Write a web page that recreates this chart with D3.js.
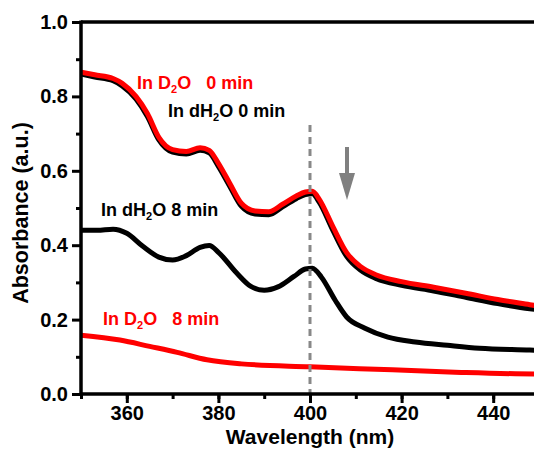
<!DOCTYPE html>
<meta charset="utf-8">
<script src="https://d3js.org/d3.v7.min.js"></script>
<style>
  body { margin: 0; background: #fff; }
  text { font-family: Arial, "Liberation Sans", sans-serif; font-weight: bold; }
</style>
<div id="chart"></div>
<script>

    // spectra: [wavelength nm, absorbance]
    const d2o0 = [[350,0.865],[353,0.858],[357,0.848],[359,0.835],[362,0.80],[364.5,0.754],[367,0.69],[370,0.657],
      [373,0.652],[376,0.662],[378,0.655],[380,0.62],[382.5,0.566],[385,0.513],[388,0.492],[391,0.490],
      [394,0.510],[397,0.532],[399,0.543],[400.5,0.545],[402,0.524],[405,0.450],[408,0.380],[411,0.343],
      [414.5,0.320],[420,0.302],[427,0.287],[434,0.271],[441,0.254],[448,0.240],[450,0.236]];
    const dh2o0 = [[350,0.860],[353,0.852],[357,0.842],[359,0.828],[362,0.793],[364.5,0.746],[367,0.683],[370,0.650],
      [373,0.645],[376,0.655],[378,0.648],[380,0.612],[382.5,0.558],[385,0.505],[388,0.484],[391,0.482],
      [394,0.503],[397,0.525],[399,0.536],[400.5,0.538],[402,0.516],[405,0.440],[408,0.370],[411,0.333],
      [414.5,0.310],[420,0.292],[427,0.277],[434,0.260],[441,0.243],[448,0.229],[450,0.226]];
    const dh2o8 = [[350,0.440],[353.5,0.440],[357,0.443],[360,0.432],[363.5,0.397],[367,0.368],[370,0.360],
      [373,0.372],[376,0.394],[378,0.399],[380,0.381],[384,0.325],[387,0.290],[390,0.279],[393,0.288],
      [396.5,0.316],[399,0.336],[400.5,0.338],[402.5,0.314],[405.5,0.252],[408,0.207],[412,0.177],
      [417,0.153],[423,0.140],[430,0.131],[437,0.123],[448,0.118],[450,0.117]];
    const d2o8 = [[350,0.158],[358.5,0.145],[365,0.128],[371,0.112],[377.5,0.092],[385,0.081],[400,0.073],
      [418,0.065],[433,0.058],[449,0.054],[450,0.054]];

    const xTicks = [360, 380, 400, 420, 440];
    const yTicks = [0.0, 0.2, 0.4, 0.6, 0.8, 1.0];

    const W = 534, H = 449;
    const plotL = 81, plotR = 539, plotT = 22, plotB = 394;

    const svg = d3.select("#chart").append("svg")
        .attr("width", W)
        .attr("height", H);

    const x = d3.scaleLinear().domain([350, 450]).range([plotL, plotR]);
    const y = d3.scaleLinear().domain([0, 1]).range([plotB, plotT]);

    const line = d3.line()
        .x(d => x(d[0]))
        .y(d => y(d[1]))
        .curve(d3.curveMonotoneX);

    // curves
    const series = [
      {data: d2o8, color: "#ff0000"},
      {data: dh2o8, color: "#000000"},
      {data: dh2o0, color: "#000000"},
      {data: d2o0, color: "#ff0000"}
    ];
    svg.append("g")
      .selectAll("path")
      .data(series)
      .join("path")
        .attr("d", d => line(d.data))
        .attr("fill", "none")
        .attr("stroke", d => d.color)
        .attr("stroke-width", 5)
        .attr("stroke-linejoin", "round");

    // dashed marker at 400 nm
    svg.append("line")
      .attr("x1", x(400)).attr("x2", x(400))
      .attr("y1", 125).attr("y2", plotB)
      .attr("stroke", "#888")
      .attr("stroke-width", 3)
      .attr("stroke-dasharray", "7,5");

    // arrow
    svg.append("line")
      .attr("x1", 347).attr("x2", 347)
      .attr("y1", 147).attr("y2", 176)
      .attr("stroke", "#808080")
      .attr("stroke-width", 4);
    svg.append("path")
      .attr("d", "M339,173 L355,173 L347,200 Z")
      .attr("fill", "#808080");

    // axes
    const xMin = svg.append("g")
      .attr("transform", `translate(0,${plotB})`)
      .call(d3.axisBottom(x).tickValues(d3.range(350, 451, 10)).tickFormat("").tickSize(5));
    const xMaj = svg.append("g")
      .attr("transform", `translate(0,${plotB})`)
      .call(d3.axisBottom(x).tickValues(xTicks).tickFormat(d3.format("d")).tickSize(9).tickPadding(3));
    xMaj.selectAll(".tick text").attr("font-size", 20).attr("fill", "#000");

    const yMin = svg.append("g")
      .attr("transform", `translate(${plotL},0)`)
      .call(d3.axisLeft(y).tickValues(d3.range(0.1, 1, 0.2)).tickFormat("").tickSize(5));
    const yMaj = svg.append("g")
      .attr("transform", `translate(${plotL},0)`)
      .call(d3.axisLeft(y).tickValues(yTicks).tickFormat(d3.format(".1f")).tickSize(9).tickPadding(4));
    yMaj.selectAll(".tick text").attr("font-size", 20).attr("fill", "#000");
    svg.selectAll(".tick line").attr("stroke", "#000").attr("stroke-width", 3);
    svg.selectAll(".domain").remove();

    // frame lines
    svg.append("line").attr("x1", plotL).attr("x2", W).attr("y1", plotB).attr("y2", plotB)
      .attr("stroke", "#000").attr("stroke-width", 3.5);
    svg.append("line").attr("x1", plotL).attr("x2", W).attr("y1", plotT).attr("y2", plotT)
      .attr("stroke", "#000").attr("stroke-width", 3.5);
    svg.append("line").attr("x1", plotL).attr("x2", plotL).attr("y1", plotT - 1.5).attr("y2", plotB + 1.5)
      .attr("stroke", "#000").attr("stroke-width", 3.5);

    // axis titles
    svg.append("text")
      .attr("x", x(400))
      .attr("y", 444)
      .attr("text-anchor", "middle")
      .attr("font-size", 21)
      .text("Wavelength (nm)");
    svg.append("text")
      .attr("transform", `translate(28,213) rotate(-90)`)
      .attr("text-anchor", "middle")
      .attr("font-size", 21.5)
      .text("Absorbance (a.u.)");

    // curve labels with subscript 2
    const labels = [
      {x: 137, y: 89, pre: "In D", post: "O   0 min", color: "#ff0000"},
      {x: 168, y: 117, pre: "In dH", post: "O 0 min", color: "#000"},
      {x: 101, y: 216, pre: "In dH", post: "O 8 min", color: "#000"},
      {x: 103, y: 325, pre: "In D", post: "O   8 min", color: "#ff0000"}
    ];
    labels.forEach(l => {
      const t = svg.append("text")
        .attr("x", l.x).attr("y", l.y)
        .attr("font-size", 18)
        .attr("fill", l.color)
        .style("white-space", "pre");
      t.append("tspan").text(l.pre);
      t.append("tspan").attr("font-size", 11).attr("dy", 4).text("2");
      t.append("tspan").attr("dy", -4).text(l.post);
    });
</script>
